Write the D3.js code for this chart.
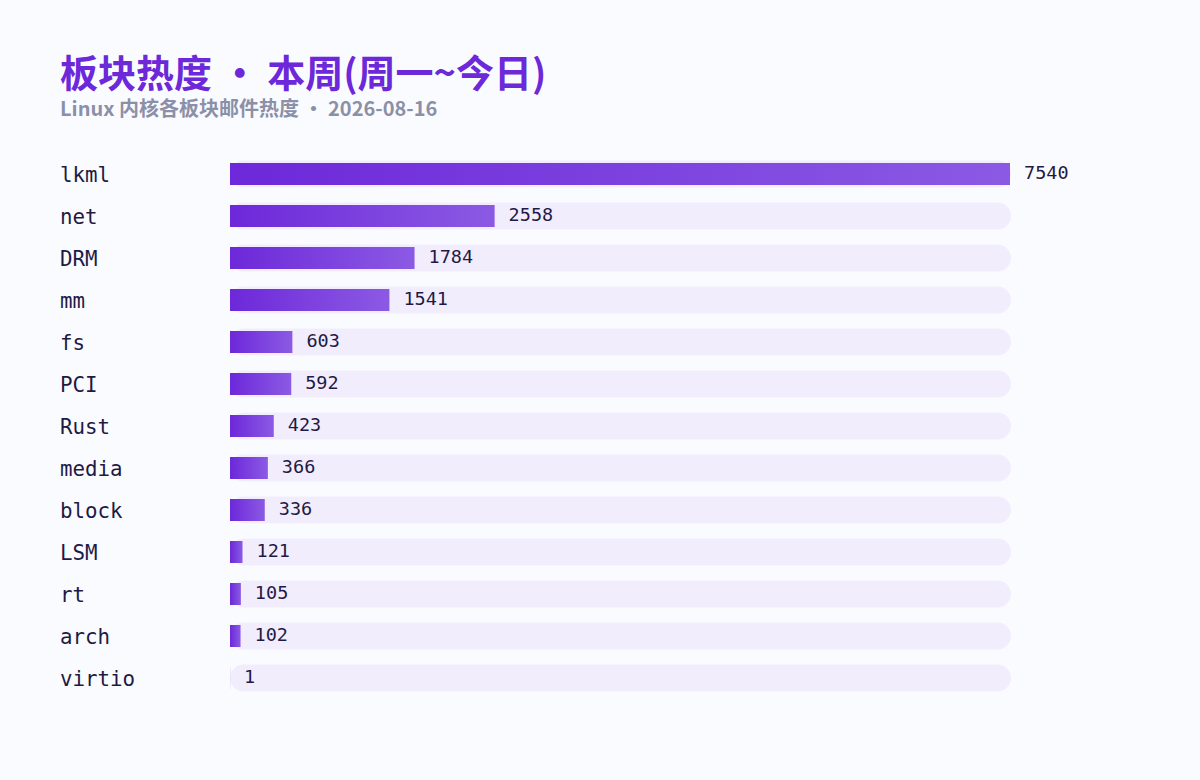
<!DOCTYPE html>
<html>
<head>
<meta charset="utf-8">
<script src="https://cdn.jsdelivr.net/npm/d3@7"></script>
<style>
  html, body { margin: 0; padding: 0; background: #fafbff; }
  svg { display: block; }
</style>
</head>
<body>
<div id="chartEl"></div>
<script>
const categories = ['lkml', 'net', 'DRM', 'mm', 'fs', 'PCI', 'Rust', 'media', 'block', 'LSM', 'rt', 'arch', 'virtio'];
const values = [7540, 2558, 1784, 1541, 603, 592, 423, 366, 336, 121, 105, 102, 1];
const titleText = '板块热度 · 本周(周一~今日)';
const subtitleText = 'Linux 内核各板块邮件热度 · 2026-08-16';

const width = 1200;
const height = 780;
const margin = {left: 230, top: 153, right: 190};
const trackW = 781;
const rowStep = 42;
const trackH = 27;
const barH = 22;
const mono = '"DejaVu Sans Mono", monospace';
const cjk = '"Noto Sans CJK SC", "Noto Sans", sans-serif';

const svg = d3.select('#chartEl').append('svg')
  .attr('width', width)
  .attr('height', height);

svg.append('rect')
  .attr('width', width)
  .attr('height', height)
  .attr('fill', '#fafbff');

svg.append('text')
  .attr('x', 60)
  .attr('y', 87)
  .attr('font-family', cjk)
  .attr('font-weight', 700)
  .attr('font-size', 38)
  .attr('fill', '#6d28d9')
  .text(titleText);

svg.append('text')
  .attr('x', 60)
  .attr('y', 116)
  .attr('font-family', cjk)
  .attr('font-weight', 700)
  .attr('font-size', 20)
  .attr('fill', '#8b90a8')
  .text(subtitleText);

const x = d3.scaleLinear()
  .domain([0, d3.max(values)])
  .range([0, trackW - 1]);

const y = d3.scaleBand()
  .domain(categories)
  .range([margin.top, margin.top + rowStep * categories.length])
  .paddingInner(0);

const defs = svg.append('defs');
const grad = defs.append('linearGradient')
  .attr('id', 'barGrad')
  .attr('x1', '0%').attr('x2', '100%')
  .attr('y1', '0%').attr('y2', '0%');
grad.append('stop').attr('offset', '0%').attr('stop-color', '#6d28d9');
grad.append('stop').attr('offset', '100%').attr('stop-color', '#8b5ae4');

const data = categories.map((c, i) => ({name: c, value: values[i]}));

const row = svg.selectAll('.row')
  .data(data)
  .enter().append('g')
  .attr('class', 'row')
  .attr('transform', d => 'translate(0,' + (y(d.name) + y.bandwidth() / 2) + ')');

row.append('rect')
  .attr('x', margin.left)
  .attr('y', -trackH / 2)
  .attr('width', trackW)
  .attr('height', trackH)
  .attr('rx', trackH / 2)
  .attr('fill', '#f2edfd');

row.append('rect')
  .attr('x', margin.left)
  .attr('y', -barH / 2)
  .attr('width', d => x(d.value))
  .attr('height', barH)
  .attr('fill', 'url(#barGrad)');

row.append('text')
  .attr('x', 60)
  .attr('y', 8)
  .attr('font-family', mono)
  .attr('font-size', 20.8)
  .attr('fill', '#1f1a45')
  .text(d => d.name);

row.append('text')
  .attr('x', d => margin.left + x(d.value) + 14)
  .attr('y', 5)
  .attr('font-family', mono)
  .attr('font-size', 18.5)
  .attr('fill', '#1f1a45')
  .text(d => d.value);
</script>
</body>
</html>
